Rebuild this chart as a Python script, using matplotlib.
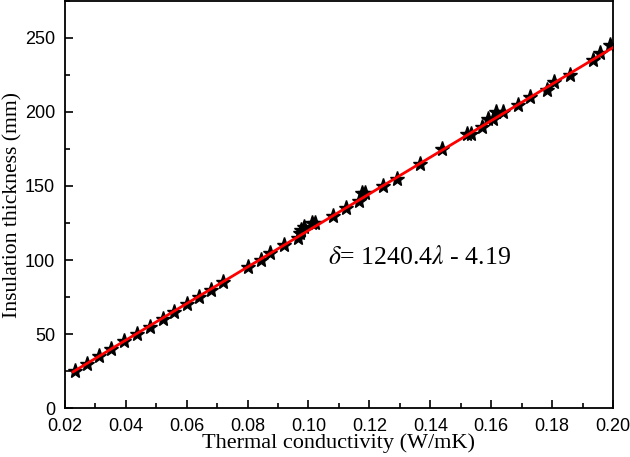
import matplotlib
matplotlib.use("Agg")
import matplotlib.pyplot as plt
from matplotlib.ticker import MultipleLocator

conductivity = [0.0233, 0.0273, 0.0312, 0.0353, 0.0395, 0.0436, 0.0479, 0.0521, 0.0558,
                0.0602, 0.0641, 0.0679, 0.0718, 0.0802, 0.0843, 0.0875, 0.0918, 0.0966,
                0.0972, 0.0977, 0.0985, 0.1010, 0.1020, 0.1081, 0.1123, 0.1165, 0.1175,
                0.1185, 0.1246, 0.1290, 0.1366, 0.1440, 0.1520, 0.1535, 0.1569, 0.1590,
                0.1605, 0.1617, 0.1639, 0.1688, 0.1728, 0.1782, 0.1806, 0.1859, 0.1935,
                0.1957, 0.1990]
thickness = [25, 30, 35, 40, 45, 50, 55, 60, 65,
             70, 75, 80, 85, 95, 100, 105, 110, 115,
             118, 120, 122, 125, 125, 130, 135, 140, 145,
             145, 150, 155, 165, 175, 185, 185, 190, 195,
             195, 200, 200, 205, 210, 215, 220, 225, 235,
             240, 245]

# fitted line endpoints
fit_x = [0.0227, 0.2000]
fit_y = [24.5, 243.5]

xticks = [0.02, 0.04, 0.06, 0.08, 0.10, 0.12, 0.14, 0.16, 0.18, 0.20]
yticks = [0, 50, 100, 150, 200, 250]

plt.rcParams['mathtext.fontset'] = 'stix'

fig = plt.figure(figsize=(6.3, 4.57), dpi=100)
ax = fig.add_axes([0.103, 0.107, 0.870, 0.891])

ax.plot(conductivity, thickness, linestyle='none', marker='*', markersize=11,
        color='black', markeredgecolor='black', zorder=2)
ax.plot(fit_x, fit_y, color='red', linewidth=2, zorder=3)

ax.set_xlim(0.02, 0.20)
ax.set_ylim(0, 275)
ax.set_xticks(xticks)
ax.set_xticklabels([f"{v:.2f}" for v in xticks])
ax.set_yticks(yticks)
ax.xaxis.set_minor_locator(MultipleLocator(0.01))
ax.yaxis.set_minor_locator(MultipleLocator(25))
ax.tick_params(which='major', direction='in', length=6, width=1.2,
               top=False, right=False, labelsize=13)
ax.tick_params(axis='x', which='major', pad=7)
ax.tick_params(axis='y', which='major', pad=7)
ax.tick_params(which='minor', direction='in', length=3.5, width=1.2,
               top=False, right=False)
for lab in ax.get_xticklabels() + ax.get_yticklabels():
    lab.set_family('Liberation Sans')
for sp in ax.spines.values():
    sp.set_linewidth(1.3)

ax.set_xlabel('Thermal conductivity (W/mK)', family='Liberation Serif', fontsize=16, labelpad=-1)
ax.set_ylabel('Insulation thickness (mm)', family='Liberation Serif', fontsize=15.6, labelpad=2)

ax.text(0.1064, 102, r'$\delta$= 1240.4$\lambda$ - 4.19', family='Liberation Serif',
        fontsize=18.5, va='center', ha='left')

fig.savefig('out.png', dpi=100)
